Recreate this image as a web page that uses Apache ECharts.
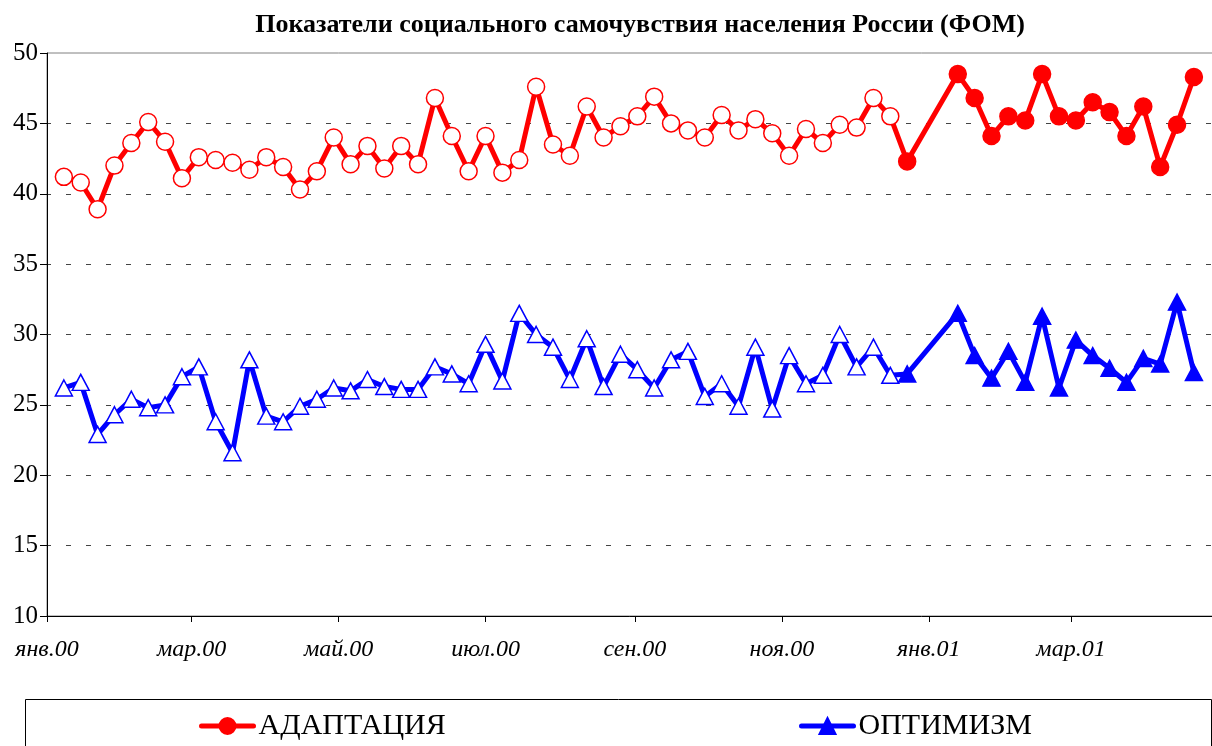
<!DOCTYPE html>
<html>
<head>
<meta charset="UTF-8">
<title>ФОМ</title>
<script src="https://cdn.jsdelivr.net/npm/echarts@6/dist/echarts.min.js"></script>
<style>
  html, body { margin: 0; padding: 0; background: #fff; }
  #main { width: 1212px; height: 746px; }
</style>
</head>
<body>
<div id="main"></div>
<script>
// weekly polls of 2000 (hollow markers)
var datesOld = [
  '2000-01-08','2000-01-15','2000-01-22','2000-01-29','2000-02-05','2000-02-12','2000-02-19','2000-02-26',
  '2000-03-04','2000-03-11','2000-03-18','2000-03-25','2000-04-01','2000-04-08','2000-04-15','2000-04-22',
  '2000-04-29','2000-05-06','2000-05-13','2000-05-20','2000-05-27','2000-06-03','2000-06-10','2000-06-17',
  '2000-06-24','2000-07-01','2000-07-08','2000-07-15','2000-07-22','2000-07-29','2000-08-05','2000-08-12',
  '2000-08-19','2000-08-26','2000-09-02','2000-09-09','2000-09-16','2000-09-23','2000-09-30','2000-10-07',
  '2000-10-14','2000-10-21','2000-10-28','2000-11-04','2000-11-11','2000-11-18','2000-11-25','2000-12-02',
  '2000-12-09','2000-12-16'
];
// later polls (filled markers)
var datesNew = [
  '2000-12-23','2001-01-13','2001-01-20','2001-01-27','2001-02-03','2001-02-10','2001-02-17','2001-02-24',
  '2001-03-03','2001-03-10','2001-03-17','2001-03-24','2001-03-31','2001-04-07','2001-04-14','2001-04-21'
];

var adaptOld = [41.2,40.8,38.9,42.0,43.6,45.1,43.7,41.1,42.6,42.4,
                42.2,41.7,42.6,41.9,40.3,41.6,44.0,42.1,43.4,41.8,
                43.4,42.1,46.8,44.1,41.6,44.1,41.5,42.4,47.6,43.5,
                42.7,46.2,44.0,44.8,45.5,46.9,45.0,44.5,44.0,45.6,
                44.5,45.3,44.3,42.7,44.6,43.6,44.9,44.7,46.8,45.5];
var adaptNew = [42.3,48.5,46.8,44.1,45.5,45.2,48.5,45.5,45.2,46.5,45.8,44.1,46.2,41.9,44.9,48.3];

var optimOld = [26.2,26.6,22.9,24.3,25.4,24.8,25.0,27.0,27.7,23.8,
                21.6,28.2,24.2,23.8,24.9,25.4,26.2,26.0,26.8,26.3,
                26.1,26.1,27.7,27.2,26.5,29.3,26.7,31.5,30.0,29.1,
                26.8,29.7,26.3,28.6,27.5,26.2,28.2,28.8,25.6,26.5,
                24.9,29.1,24.7,28.5,26.5,27.1,30.0,27.7,29.1,27.1];
var optimNew = [27.2,31.5,28.5,26.9,28.8,26.6,31.3,26.2,29.6,28.5,27.6,26.6,28.3,27.9,32.3,27.3];

var tickDates = ['2000-01-01','2000-03-01','2000-05-01','2000-07-01','2000-09-01','2000-11-01','2001-01-01','2001-03-01'];
var tickLabels = ['янв.00','мар.00','май.00','июл.00','сен.00','ноя.00','янв.01','мар.01'];

var RED = '#ff0000', BLUE = '#0000ff';
var serif = '"Liberation Serif", "DejaVu Serif", serif';

function t(d) { return +echarts.time.parse(d); }
var tickTimes = tickDates.map(t);

function buildData(vals, dates, color, filled) {
  return vals.map(function(v, i){
    var item = { value: [t(dates[i]), v] };
    if (filled) item.itemStyle = { color: color, borderColor: color };
    return item;
  });
}

var myChart = echarts.init(document.getElementById('main'));

var option = {
  animation: false,
  backgroundColor: '#fff',
  title: {
    text: 'Показатели социального самочувствия населения России (ФОМ)',
    left: 635, top: 7, textAlign: 'center',
    textStyle: { fontFamily: serif, fontSize: 26, fontWeight: 'bold', color: '#000' }
  },
  grid: {
    left: 47, top: 53, bottom: 130, right: -6,
    outerBoundsMode: 'none',
    show: true, borderColor: '#808080', borderWidth: 1
  },
  legend: [{
    data: [{ name: 'АДАПТАЦИЯ', itemStyle: { color: RED, borderColor: RED }, lineStyle: { color: RED, width: 5 } }],
    left: 199, top: 711, itemWidth: 52, itemHeight: 20, padding: 0,
    textStyle: { fontFamily: serif, fontSize: 30, color: '#000' }
  }, {
    data: [{ name: 'ОПТИМИЗМ', itemStyle: { color: BLUE, borderColor: BLUE }, lineStyle: { color: BLUE, width: 5 } }],
    left: 799, top: 711, itemWidth: 52, itemHeight: 20, padding: 0,
    textStyle: { fontFamily: serif, fontSize: 30, color: '#000' }
  }],
  graphic: [{
    type: 'rect', left: 23, top: 697,
    shape: { width: 1186, height: 70 },
    style: { fill: 'none', stroke: '#000', lineWidth: 1 }
  }],
  xAxis: {
    type: 'value',
    min: t('2000-01-01'), max: t('2001-05-01'),
    axisLine: { lineStyle: { color: '#000', width: 1 } },
    axisTick: { show: true, length: 6, customValues: tickTimes, lineStyle: { color: '#000' } },
    splitLine: { show: false },
    axisLabel: {
      customValues: tickTimes,
      margin: 22,
      fontFamily: serif, fontSize: 24, fontStyle: 'italic', color: '#000',
      formatter: function(val){
        var i = tickTimes.indexOf(+val);
        return i >= 0 ? tickLabels[i] : '';
      }
    }
  },
  yAxis: {
    type: 'value', min: 10, max: 50, interval: 5,
    axisLine: { show: true, lineStyle: { color: '#000', width: 1 } },
    axisTick: { show: true, length: 7, lineStyle: { color: '#000' } },
    axisLabel: { margin: 9, fontFamily: serif, fontSize: 25, color: '#000' },
    splitLine: {
      show: true, showMinLine: false, showMaxLine: false,
      lineStyle: { color: '#444', width: 1, type: [5, 15], dashOffset: 1 }
    }
  },
  series: [{
    name: 'АДАПТАЦИЯ', type: 'line',
    data: buildData(adaptOld, datesOld, RED, false).concat(buildData(adaptNew, datesNew, RED, true)),
    symbol: 'circle', symbolSize: 17,
    lineStyle: { color: RED, width: 5, join: 'round', cap: 'round' },
    itemStyle: { color: '#fff', borderColor: RED, borderWidth: 1.5 },
    emphasis: { disabled: true }
  }, {
    name: 'ОПТИМИЗМ', type: 'line',
    data: buildData(optimOld, datesOld, BLUE, false).concat(buildData(optimNew, datesNew, BLUE, true)),
    symbol: 'triangle', symbolSize: [17, 16],
    lineStyle: { color: BLUE, width: 5, join: 'round', cap: 'round' },
    itemStyle: { color: '#fff', borderColor: BLUE, borderWidth: 1.5 },
    emphasis: { disabled: true }
  }]
};

myChart.setOption(option);
</script>
</body>
</html>
